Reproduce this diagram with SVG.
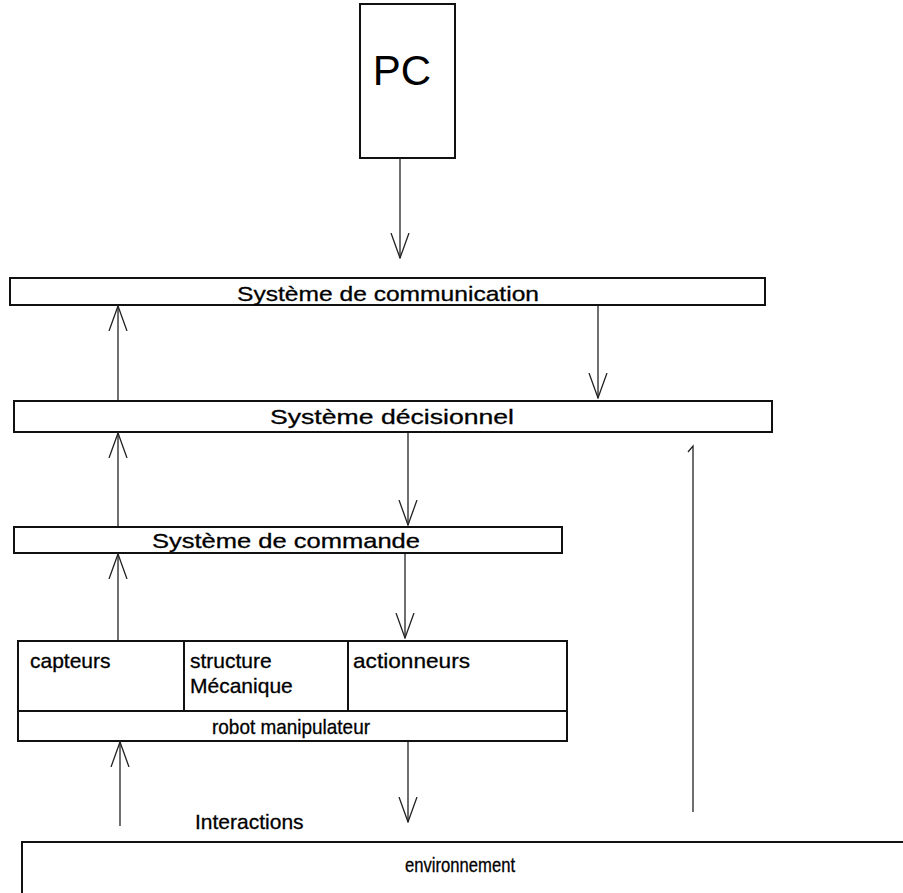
<svg xmlns="http://www.w3.org/2000/svg" width="903" height="893" viewBox="0 0 903 893">
  <style>
    .box { fill: #ffffff; stroke: #111111; stroke-width: 2; }
    .div { stroke: #111111; stroke-width: 2; fill: none; }
    .wire { stroke: #222222; stroke-width: 1.3; fill: none; }
    .lbl { font-family: "Liberation Sans", Arial, sans-serif; font-size: 21px; fill: #000000; stroke: #000000; stroke-width: 0.3; }
    .mid { text-anchor: middle; }
    .big { font-family: "Liberation Sans", Arial, sans-serif; font-size: 42px; fill: #000000; text-anchor: middle; }
  </style>
  <defs>
    <!-- open V arrowhead, drawn along +x so orient="auto" follows the line -->
    <marker id="vee" viewBox="0 0 26 20" refX="25" refY="10" markerWidth="26" markerHeight="20" markerUnits="userSpaceOnUse" orient="auto">
      <path d="M0,1 L25,10 L0,19" fill="none" stroke="#222222" stroke-width="1.3"/>
    </marker>
  </defs>
  <rect width="903" height="893" fill="#ffffff"/>

  <!-- blocks -->
  <g id="pc">
    <rect class="box" x="360" y="4" width="95" height="154"/>
    <text class="big" x="402" y="85">PC</text>
  </g>

  <g id="communication">
    <rect class="box" x="10" y="278" width="755" height="27"/>
    <text class="lbl mid" x="388" y="301" textLength="302" lengthAdjust="spacingAndGlyphs">Système de communication</text>
  </g>

  <g id="decisionnel">
    <rect class="box" x="14" y="401" width="758" height="31"/>
    <text class="lbl mid" x="392" y="424" textLength="244" lengthAdjust="spacingAndGlyphs">Système décisionnel</text>
  </g>

  <g id="commande">
    <rect class="box" x="14" y="527" width="548" height="26"/>
    <text class="lbl mid" x="286" y="548" textLength="268" lengthAdjust="spacingAndGlyphs">Système de commande</text>
  </g>

  <g id="robot">
    <rect class="box" x="18" y="641" width="549" height="100"/>
    <path class="div" d="M18,711 H567 M184,641 V711 M348,641 V711"/>
    <text class="lbl" x="30" y="668">capteurs</text>
    <text class="lbl" x="190" y="668">structure</text>
    <text class="lbl" x="190" y="693">Mécanique</text>
    <text class="lbl" x="353" y="668" textLength="117" lengthAdjust="spacingAndGlyphs">actionneurs</text>
    <text class="lbl mid" x="291" y="734" textLength="158" lengthAdjust="spacingAndGlyphs">robot manipulateur</text>
  </g>

  <g id="environnement">
    <rect class="box" x="22" y="842" width="900" height="70"/>
    <text class="lbl mid" x="460" y="872" textLength="110" lengthAdjust="spacingAndGlyphs">environnement</text>
  </g>

  <!-- connectors -->
  <g id="connectors">
    <line class="wire" x1="400" y1="158" x2="400" y2="258" marker-end="url(#vee)"/>
    <line class="wire" x1="118" y1="400" x2="118" y2="306" marker-end="url(#vee)"/>
    <line class="wire" x1="598" y1="306" x2="598" y2="398" marker-end="url(#vee)"/>
    <line class="wire" x1="118" y1="526" x2="118" y2="433" marker-end="url(#vee)"/>
    <line class="wire" x1="408" y1="433" x2="408" y2="525" marker-end="url(#vee)"/>
    <line class="wire" x1="118" y1="640" x2="118" y2="554" marker-end="url(#vee)"/>
    <line class="wire" x1="405" y1="554" x2="405" y2="638" marker-end="url(#vee)"/>
    <line class="wire" x1="120" y1="826" x2="120" y2="742" marker-end="url(#vee)"/>
    <line class="wire" x1="408" y1="742" x2="408" y2="822" marker-end="url(#vee)"/>
    <path class="wire" d="M688,452 L693,446 V812"/>
    <text class="lbl" x="195" y="829">Interactions</text>
  </g>
</svg>
